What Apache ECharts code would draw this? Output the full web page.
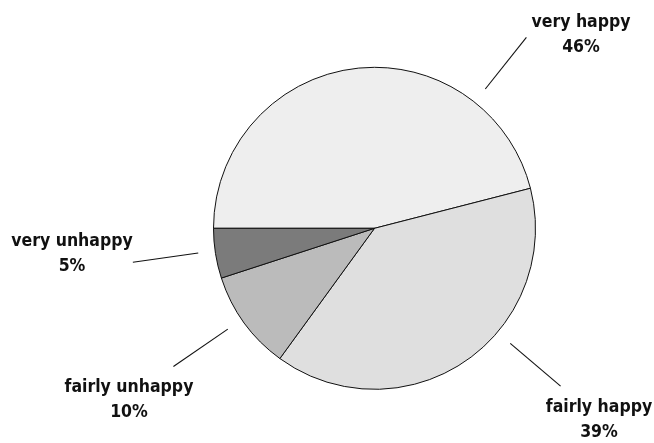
<!DOCTYPE html>
<html>
<head>
<meta charset="utf-8">
<script src="https://cdn.jsdelivr.net/npm/echarts@6/dist/echarts.min.js"></script>
<style>html,body{margin:0;padding:0;background:#fff}#c{width:654px;height:443px}</style>
</head>
<body>
<div id="c"></div>
<script>
// Data
const categories = ['very happy', 'fairly happy', 'fairly unhappy', 'very unhappy'];
const values = [46, 39, 10, 5];
const colors = ['#eeeeee', '#dfdfdf', '#bbbbbb', '#7b7b7b'];

// Layout (label placement around the pie)
const CX = 374.5, CY = 228.3, R = 161;
const leaderAngles = [51.5, -40.3, 214.5, 188];   // degrees, math convention
const leaderR0 = 178, leaderR1 = 244;
const labelPos = [[581, 35], [599, 420], [129, 400], [72, 254]];

const chart = echarts.init(document.getElementById('c'), null, {renderer: 'canvas'});
chart.setOption({
  animation: false,
  backgroundColor: '#ffffff',
  series: [{
    type: 'pie',
    center: [CX, CY],
    radius: R,
    startAngle: 180,
    clockwise: true,
    avoidLabelOverlap: false,
    data: categories.map((n, i) => ({name: n, value: values[i], itemStyle: {color: colors[i]}})),
    itemStyle: {borderColor: '#111', borderWidth: 1},
    emphasis: {disabled: true},
    label: {
      show: true,
      position: 'outside',
      formatter: '{b}\n{c}%',
      fontFamily: "'DejaVu Sans Condensed', sans-serif",
      fontWeight: 'bold',
      fontSize: 17.5,
      lineHeight: 25,
      color: '#111',
      align: 'center'
    },
    labelLine: {show: true, lineStyle: {color: '#111', width: 1.1}},
    labelLayout: function (p) {
      const i = p.dataIndex;
      const a = leaderAngles[i] * Math.PI / 180;
      const p0 = [CX + leaderR0 * Math.cos(a), CY - leaderR0 * Math.sin(a)];
      const p1 = [CX + leaderR1 * Math.cos(a), CY - leaderR1 * Math.sin(a)];
      return {
        x: labelPos[i][0], y: labelPos[i][1],
        align: 'center', verticalAlign: 'middle',
        labelLinePoints: [p0, p1, p1]
      };
    }
  }]
});
</script>
</body>
</html>
